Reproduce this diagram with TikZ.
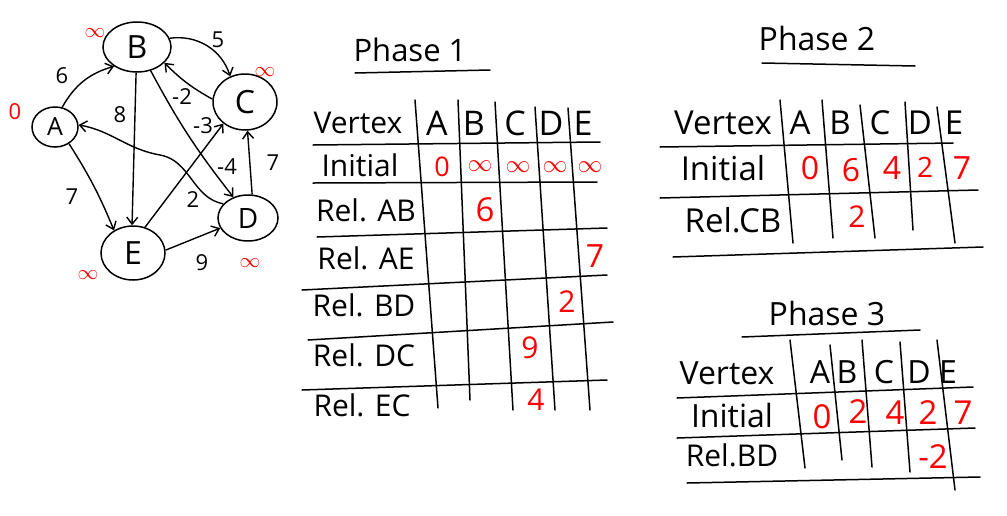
\documentclass[tikz,border=0pt]{standalone}
\usepackage{fontspec}
\setmainfont{Open Sans}
\usetikzlibrary{arrows.meta,shapes.geometric}
\newcommand{\fs}[1]{\fontsize{#1}{#1}\selectfont}
\begin{document}
\begin{tikzpicture}[x=1pt,y=-1pt,
  vtx/.style={draw,ellipse,line width=1.5pt,inner sep=0pt,font=\fs{32}},
  arr/.style={line width=1.4pt,-{Straight Barb[length=7pt,width=11pt]}},
  elab/.style={inner sep=0pt,font=\fs{22}},
  rlab/.style={inner sep=0pt,text=red,font=\fs{22}},
  gl/.style={line width=1.5pt,line cap=round},
  ttl/.style={inner sep=0pt,font=\fs{31}},
  lab/.style={inner sep=0pt,font=\fs{30}},
  hd/.style={inner sep=0pt,font=\fs{34}},
  val/.style={inner sep=0pt,text=red,font=\fs{30}},
  inf/.style={inner sep=0pt,text=red,font=\fs{24}}]
\useasboundingbox (0,0) rectangle (1007,515);
% ---------- graph ----------
\node[vtx,minimum width=68,minimum height=50] (B) at (137,47) {B};
\node[vtx,minimum width=64,minimum height=56] (C) at (245,102) {C};
\node[vtx,minimum width=46,minimum height=40,font=\fs{25}] (A) at (55,127) {A};
\node[vtx,minimum width=60,minimum height=46,font=\fs{28}] (D) at (248,218) {D};
\node[vtx,minimum width=64,minimum height=54] (E) at (133,253) {E};
\node[rlab] (iB) at (95,33) {$\infty$};
\node[rlab] (iC) at (265,72) {$\infty$};
\node[rlab] (iA) at (15,112) {0};
\node[rlab] (iD) at (250,263) {$\infty$};
\node[rlab] (iE) at (88,275) {$\infty$};
\draw[arr] (A.70) to[bend left=22] (B.220);
\draw[arr] (B.15) to[bend left=40] (C.120);
\draw[arr] (C.175) to[bend left=8] (B.330);
\draw[arr] (A.310) to[bend left=5] (E.130);
\draw[arr] (B.268) -- (E.92);
\draw[arr] (B.300) to[bend right=5] (D.125);
\draw[arr] (E.65) -- (C.225);
\draw[arr] (D.150) to[out=170,in=-10] (160,155) to[out=170,in=-10] (A.5);
\draw[arr] (D.80) -- (C.275);
\draw[arr] (E.5) -- (D.200);
\node[elab] (l6) at (62,76) {6};
\node[elab] (l5) at (218,40) {5};
\node[elab] (lm2) at (182,97) {-2};
\node[elab] (l7a) at (72,197) {7};
\node[elab] (l8) at (120,115) {8};
\node[elab] (lm4) at (227,167) {-4};
\node[elab] (lm3) at (203,126) {-3};
\node[elab] (l2) at (193,200) {2};
\node[elab] (l7b) at (273,163) {7};
\node[elab] (l9) at (202,263) {9};
% ---------- phase 1 ----------
\node[ttl] (t1) at (410,50) {Phase 1};
\draw[gl] (355,73) -- (490,70);
\node[lab] (v1) at (358,123) {Vertex};
\node[hd] (a1) at (437,123) {A};
\node[hd] (b1) at (474,123) {B};
\node[hd] (c1) at (515,123) {C};
\node[hd] (d1) at (551,123) {D};
\node[hd] (e1) at (583,123) {E};
\node[lab] (r11) at (360,165) {Initial};
\node[lab] (r12) at (366,210) {Rel. AB};
\node[lab] (r13) at (366,258) {Rel. AE};
\node[lab] (r14) at (364,305) {Rel. BD};
\node[lab] (r15) at (364,355) {Rel. DC};
\node[lab] (r16) at (362,405) {Rel. EC};
\draw[gl] (313,145) -- (600,142);
\draw[gl] (313,183) -- (597,182);
\draw[gl] (317,237) -- (607,228);
\draw[gl] (302,290) -- (607,275);
\draw[gl] (308,340) -- (613,322);
\draw[gl] (302,390) -- (607,380);
\draw[gl] (415,100) -- (438,408);
\draw[gl] (458,100) -- (470,400);
\draw[gl] (495,102) -- (513,410);
\draw[gl] (535,107) -- (555,410);
\draw[gl] (568,108) -- (590,410);
\node[val,font=\fs{27}] (x10) at (442,167) {0};
\node[inf] (x11) at (480,166) {$\infty$};
\node[inf] (x12) at (518,167) {$\infty$};
\node[inf] (x13) at (555,167) {$\infty$};
\node[inf] (x14) at (590,167) {$\infty$};
\node[val,font=\fs{33}] (x15) at (485,210) {6};
\node[val,font=\fs{32}] (x16) at (595,256) {7};
\node[val] (x17) at (567,302) {2};
\node[val] (x18) at (530,348) {9};
\node[val] (x19) at (536,400) {4};
% ---------- phase 2 ----------
\node[ttl,font=\fs{32}] (t2) at (817,38) {Phase 2};
\draw[gl] (762,63) -- (915,66);
\node[lab,font=\fs{33}] (v2) at (723,123) {Vertex};
\node[hd,font=\fs{33}] (a2) at (800,123) {A};
\node[hd,font=\fs{33}] (b2) at (840,123) {B};
\node[hd,font=\fs{33}] (c2) at (880,123) {C};
\node[hd,font=\fs{33}] (d2) at (920,123) {D};
\node[hd,font=\fs{33}] (e2) at (954,123) {E};
\node[lab,font=\fs{33}] (r21) at (723,168) {Initial};
\node[lab,font=\fs{33}] (r22) at (733,220) {Rel.CB};
\draw[gl] (660,147) -- (953,143);
\draw[gl] (660,198) -- (978,190);
\draw[gl] (673,257) -- (983,247);
\draw[gl] (780,100) -- (793,243);
\draw[gl] (822,100) -- (833,238);
\draw[gl] (860,105) -- (875,238);
\draw[gl] (905,102) -- (913,230);
\draw[gl] (937,107) -- (955,243);
\node[val,font=\fs{32}] (y20) at (810,168) {0};
\node[val,font=\fs{32}] (y21) at (851,170) {6};
\node[val,font=\fs{32}] (y22) at (892,168) {4};
\node[val,font=\fs{28}] (y23) at (925,167) {2};
\node[val,font=\fs{32}] (y24) at (962,168) {7};
\node[val,font=\fs{30}] (y25) at (857,217) {2};
% ---------- phase 3 ----------
\node[ttl,font=\fs{32}] (t3) at (827,313) {Phase 3};
\draw[gl] (742,337) -- (920,330);
\node[lab,font=\fs{32}] (v3) at (727,373) {Vertex};
\node[hd,font=\fs{32}] (a3) at (820,372) {A};
\node[hd,font=\fs{32}] (b3) at (847,372) {B};
\node[hd,font=\fs{32}] (c3) at (884,372) {C};
\node[hd,font=\fs{32}] (d3) at (919,372) {D};
\node[hd,font=\fs{32}] (e3) at (948,372) {E};
\node[lab,font=\fs{32}] (r31) at (732,415) {Initial};
\node[lab,font=\fs{30}] (r32) at (732,455) {Rel.BD};
\draw[gl] (677,398) -- (973,387);
\draw[gl] (677,438) -- (975,428);
\draw[gl] (687,483) -- (980,477);
\draw[gl] (790,340) -- (805,468);
\draw[gl] (830,345) -- (842,460);
\draw[gl] (862,340) -- (872,467);
\draw[gl] (900,342) -- (910,472);
\draw[gl] (937,340) -- (955,490);
\node[val,font=\fs{33}] (z30) at (822,417) {0};
\node[val,font=\fs{33}] (z31) at (858,412) {2};
\node[val,font=\fs{33}] (z32) at (895,413) {4};
\node[val,font=\fs{33}] (z33) at (928,413) {2};
\node[val,font=\fs{33}] (z34) at (963,413) {7};
\node[val,font=\fs{33}] (z35) at (933,457) {-2};
\end{tikzpicture}
\end{document}
